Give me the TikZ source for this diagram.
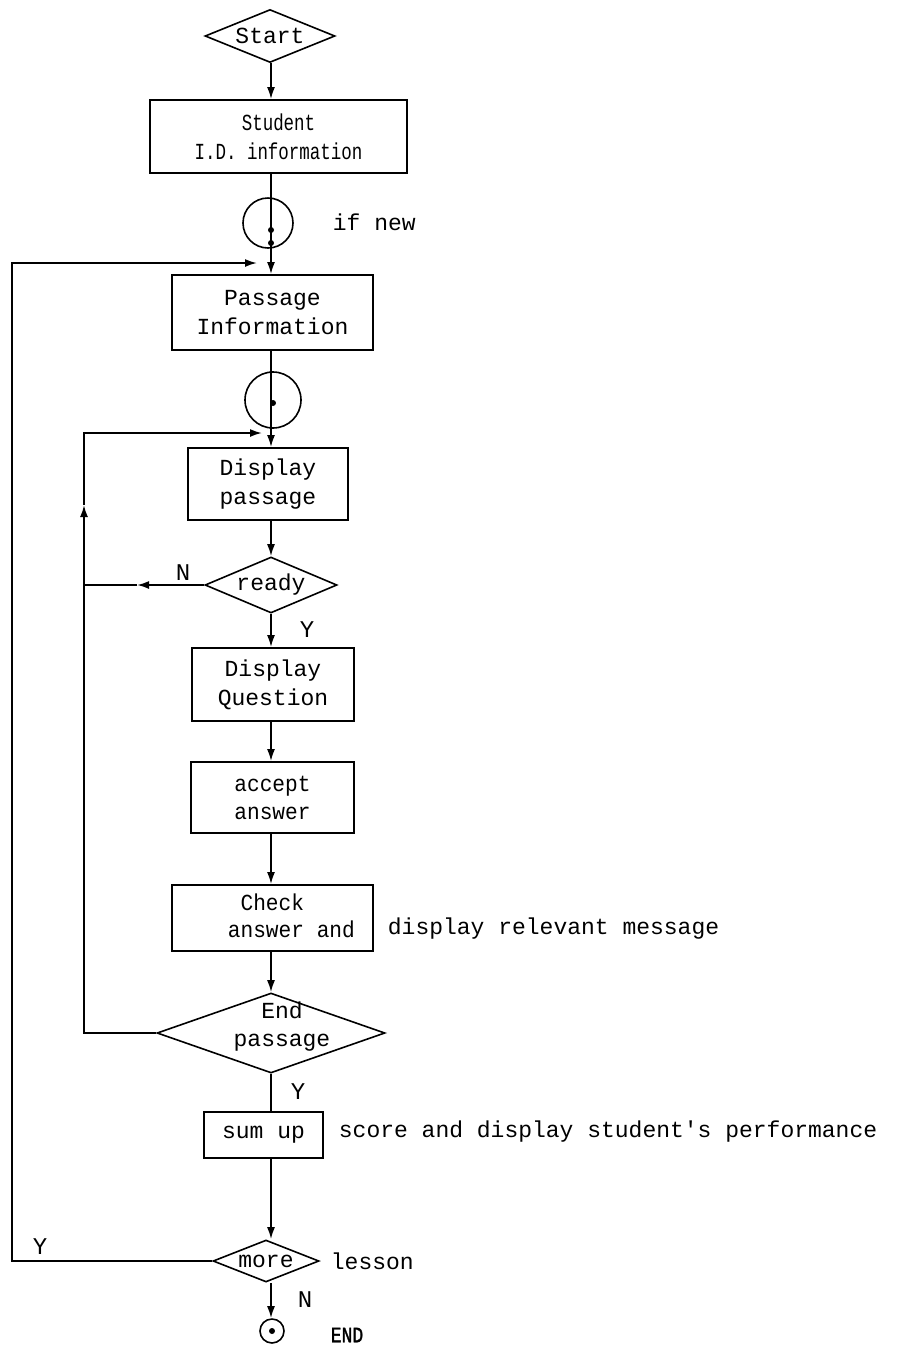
\documentclass[tikz,border=0pt]{standalone}
\usepackage{fontspec}
\setmonofont{Liberation Mono}
\newfontfamily\condmono[FakeStretch=0.76]{Liberation Mono}
\newfontfamily\semimono[FakeStretch=0.92]{Liberation Mono}
\newfontfamily\endmono[FakeStretch=0.82,FakeBold=1.5]{Liberation Mono}
\usetikzlibrary{shapes.geometric,arrows.meta}
\begin{document}
\begin{tikzpicture}[x=1pt,y=-1pt,line width=1.8pt,
  tt/.style={font=\fontsize{23}{29}\selectfont\ttfamily},
  box/.style={draw,rectangle,inner sep=0pt,line width=1.8pt,tt,align=center},
  dia/.style={draw,diamond,inner sep=0pt,line width=1.6pt},
  circ/.style={draw,circle,inner sep=0pt,line width=1.6pt},
  lbl/.style={inner sep=0pt,tt},
  yn/.style={inner sep=0pt,font=\fontsize{24}{28}\selectfont\ttfamily},
  arr/.style={-{Latex[length=12pt,width=8pt]}}]
\useasboundingbox (0,0) rectangle (898,1350);
\coordinate (col) at (271,0);
% nodes
\node[dia,minimum width=130,minimum height=53] (start) at (270,36) {};
\node[lbl] (starttxt) at (start.center) {Start};
\node[box,minimum width=257,minimum height=73,font=\fontsize{23}{29}\selectfont\condmono] (student) at (278.5,136.5) {Student\\I.D. information};
\node[circ,minimum size=50] (c1) at (268,223) {};
\node[lbl,anchor=west] (ifnew) at (332,222) {if new};
\node[box,minimum width=201,minimum height=75] (passage) at (272.5,312.5) {Passage\\Information};
\node[circ,minimum size=56] (c2) at (273,400) {};
\node[box,minimum width=160,minimum height=72] (dpass) at (268,484) {Display\\passage};
\node[dia,minimum width=132,minimum height=56] (ready) at (271,585) {};
\node[lbl] (readytxt) at (ready.center) {ready};
\node[box,minimum width=162,minimum height=73] (dq) at (273,684.5) {Display\\Question};
\node[box,minimum width=163,minimum height=71,font=\fontsize{23}{28}\selectfont\semimono] (accept) at (272.5,797.5) {accept\\answer};
\node[box,minimum width=201,minimum height=66] (check) at (272.5,918) {};
\node[lbl,anchor=west,align=left,font=\fontsize{23}{27}\selectfont\semimono] (checktxt) at (227,916) {\hphantom{a}Check\\answer and};
\node[lbl,anchor=west] (relmsg) at (387,929) {display relevant message};
\node[dia,minimum width=228,minimum height=80] (endp) at (271,1033) {};
\node[lbl,align=center,font=\fontsize{23}{28}\selectfont\ttfamily] (endptxt) at (282,1027) {End\\passage};
\node[box,minimum width=119,minimum height=46] (sumup) at (263.5,1135) {sum up};
\node[lbl,anchor=west] (perf) at (338,1132) {score and display student's performance};
\node[dia,minimum width=106,minimum height=42] (more) at (266,1261) {};
\node[lbl] (moretxt) at (more.center) {more};
\node[lbl,anchor=west] (lesson) at (330,1261) {lesson};
\node[circ,minimum size=24] (endc) at (272,1331) {};
\node[lbl,font=\fontsize{22}{24}\selectfont\endmono] (endtxt) at (347,1335) {END};
% labels
\node[yn] (yready) at (307,630) {Y};
\node[yn] (nready) at (183,573) {N};
\node[yn] (yendp) at (298,1092) {Y};
\node[yn] (nmore) at (305,1300) {N};
\node[yn] (ymore) at (40,1247) {Y};
% coordinates of loops
\coordinate (lt) at (12,263);
\coordinate (la) at (257,263);
\coordinate (il) at (84,433);
\coordinate (ia) at (262,433);
\coordinate (iu) at (84,505);
\coordinate (na) at (137,585);
% main flow
\draw[arr] (start.south -| col) -- (student.north -| col);
\draw[arr] (student.south -| col) -- (passage.north -| col);
\fill (271,230) circle (3);
\fill (271,243) circle (3);
\draw[arr] (passage.south -| col) -- (dpass.north -| col);
\fill (273,403) circle (3);
\draw[arr] (dpass.south -| col) -- (ready.north -| col);
\draw[arr] (ready.south -| col) -- (dq.north -| col);
\draw[arr] (dq.south -| col) -- (accept.north -| col);
\draw[arr] (accept.south -| col) -- (check.north -| col);
\draw[arr] (check.south -| col) -- (endp.north -| col);
\draw (endp.south -| col) -- (sumup.north -| col);
\draw[arr] (sumup.south -| col) -- (more.north -| col);
\draw[arr] (more.south -| col) -- (endc.north -| col);
\fill (endc.center) circle (3);
% outer loop
\draw[arr,line join=miter] (more.west) -- (more.west -| lt) -- (lt) -- (la);
% inner loop
\draw[arr] (ready.west) -- (na);
\draw (na) -- (ready.west -| il);
\draw[arr] (endp.west) -- (endp.west -| il) -- (iu);
\draw[arr] (iu) -- (il) -- (ia);
\end{tikzpicture}
\end{document}
